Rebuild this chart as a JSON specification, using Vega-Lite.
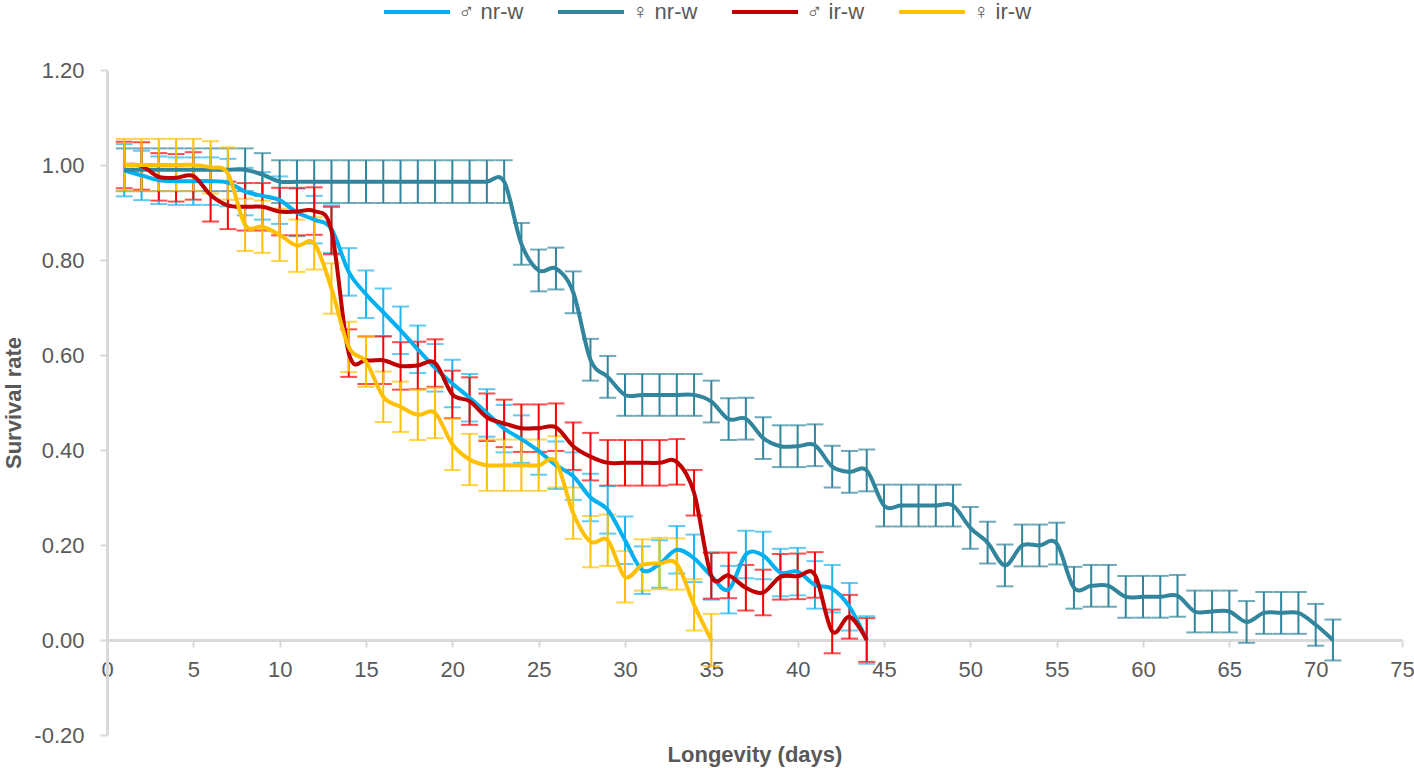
{
  "$schema": "https://vega.github.io/schema/vega-lite/v6.json",
  "width": 1295,
  "height": 665,
  "autosize": {"type": "none"},
  "padding": {"left": 107, "top": 70, "right": 12, "bottom": 33},
  "background": "white",
  "config": {"view": {"stroke": null}, "font": "Liberation Sans"},
  "data": {"values": [
    {"series": "♂ nr-w", "day": 1, "rate": 0.989, "err": 0.055},
    {"series": "♂ nr-w", "day": 2, "rate": 0.978, "err": 0.052},
    {"series": "♂ nr-w", "day": 3, "rate": 0.968, "err": 0.05},
    {"series": "♂ nr-w", "day": 4, "rate": 0.966, "err": 0.05},
    {"series": "♂ nr-w", "day": 5, "rate": 0.966, "err": 0.05},
    {"series": "♂ nr-w", "day": 6, "rate": 0.966, "err": 0.05},
    {"series": "♂ nr-w", "day": 7, "rate": 0.963, "err": 0.05},
    {"series": "♂ nr-w", "day": 8, "rate": 0.944, "err": 0.05},
    {"series": "♂ nr-w", "day": 9, "rate": 0.935, "err": 0.05},
    {"series": "♂ nr-w", "day": 10, "rate": 0.926, "err": 0.05},
    {"series": "♂ nr-w", "day": 11, "rate": 0.9, "err": 0.05},
    {"series": "♂ nr-w", "day": 12, "rate": 0.885, "err": 0.05},
    {"series": "♂ nr-w", "day": 13, "rate": 0.865, "err": 0.05},
    {"series": "♂ nr-w", "day": 14, "rate": 0.775, "err": 0.05},
    {"series": "♂ nr-w", "day": 15, "rate": 0.728, "err": 0.05},
    {"series": "♂ nr-w", "day": 16, "rate": 0.69, "err": 0.05},
    {"series": "♂ nr-w", "day": 17, "rate": 0.652, "err": 0.05},
    {"series": "♂ nr-w", "day": 18, "rate": 0.612, "err": 0.05},
    {"series": "♂ nr-w", "day": 19, "rate": 0.573, "err": 0.05},
    {"series": "♂ nr-w", "day": 20, "rate": 0.54, "err": 0.05},
    {"series": "♂ nr-w", "day": 21, "rate": 0.51, "err": 0.05},
    {"series": "♂ nr-w", "day": 22, "rate": 0.478, "err": 0.05},
    {"series": "♂ nr-w", "day": 23, "rate": 0.445, "err": 0.05},
    {"series": "♂ nr-w", "day": 24, "rate": 0.423, "err": 0.05},
    {"series": "♂ nr-w", "day": 25, "rate": 0.398, "err": 0.05},
    {"series": "♂ nr-w", "day": 26, "rate": 0.368, "err": 0.05},
    {"series": "♂ nr-w", "day": 27, "rate": 0.345, "err": 0.05},
    {"series": "♂ nr-w", "day": 28, "rate": 0.3, "err": 0.05},
    {"series": "♂ nr-w", "day": 29, "rate": 0.274, "err": 0.05},
    {"series": "♂ nr-w", "day": 30, "rate": 0.21, "err": 0.05},
    {"series": "♂ nr-w", "day": 31, "rate": 0.147, "err": 0.05},
    {"series": "♂ nr-w", "day": 32, "rate": 0.16, "err": 0.05},
    {"series": "♂ nr-w", "day": 33, "rate": 0.19, "err": 0.05},
    {"series": "♂ nr-w", "day": 34, "rate": 0.172, "err": 0.05},
    {"series": "♂ nr-w", "day": 35, "rate": 0.135, "err": 0.05},
    {"series": "♂ nr-w", "day": 36, "rate": 0.106, "err": 0.05},
    {"series": "♂ nr-w", "day": 37, "rate": 0.18, "err": 0.05},
    {"series": "♂ nr-w", "day": 38, "rate": 0.178, "err": 0.05},
    {"series": "♂ nr-w", "day": 39, "rate": 0.142, "err": 0.05},
    {"series": "♂ nr-w", "day": 40, "rate": 0.144, "err": 0.05},
    {"series": "♂ nr-w", "day": 41, "rate": 0.116, "err": 0.05},
    {"series": "♂ nr-w", "day": 42, "rate": 0.108, "err": 0.05},
    {"series": "♂ nr-w", "day": 43, "rate": 0.07, "err": 0.05},
    {"series": "♂ nr-w", "day": 44, "rate": 0.0, "err": 0.05},
    {"series": "♀ nr-w", "day": 1, "rate": 0.99, "err": 0.045},
    {"series": "♀ nr-w", "day": 2, "rate": 0.99, "err": 0.045},
    {"series": "♀ nr-w", "day": 3, "rate": 0.99, "err": 0.045},
    {"series": "♀ nr-w", "day": 4, "rate": 0.99, "err": 0.045},
    {"series": "♀ nr-w", "day": 5, "rate": 0.99, "err": 0.045},
    {"series": "♀ nr-w", "day": 6, "rate": 0.99, "err": 0.045},
    {"series": "♀ nr-w", "day": 7, "rate": 0.99, "err": 0.045},
    {"series": "♀ nr-w", "day": 8, "rate": 0.99, "err": 0.045},
    {"series": "♀ nr-w", "day": 9, "rate": 0.98, "err": 0.045},
    {"series": "♀ nr-w", "day": 10, "rate": 0.965, "err": 0.045},
    {"series": "♀ nr-w", "day": 11, "rate": 0.965, "err": 0.045},
    {"series": "♀ nr-w", "day": 12, "rate": 0.965, "err": 0.045},
    {"series": "♀ nr-w", "day": 13, "rate": 0.965, "err": 0.045},
    {"series": "♀ nr-w", "day": 14, "rate": 0.965, "err": 0.045},
    {"series": "♀ nr-w", "day": 15, "rate": 0.965, "err": 0.045},
    {"series": "♀ nr-w", "day": 16, "rate": 0.965, "err": 0.045},
    {"series": "♀ nr-w", "day": 17, "rate": 0.965, "err": 0.045},
    {"series": "♀ nr-w", "day": 18, "rate": 0.965, "err": 0.045},
    {"series": "♀ nr-w", "day": 19, "rate": 0.965, "err": 0.045},
    {"series": "♀ nr-w", "day": 20, "rate": 0.965, "err": 0.045},
    {"series": "♀ nr-w", "day": 21, "rate": 0.965, "err": 0.045},
    {"series": "♀ nr-w", "day": 22, "rate": 0.965, "err": 0.045},
    {"series": "♀ nr-w", "day": 23, "rate": 0.965, "err": 0.045},
    {"series": "♀ nr-w", "day": 24, "rate": 0.834, "err": 0.044},
    {"series": "♀ nr-w", "day": 25, "rate": 0.778, "err": 0.044},
    {"series": "♀ nr-w", "day": 26, "rate": 0.782, "err": 0.044},
    {"series": "♀ nr-w", "day": 27, "rate": 0.732, "err": 0.044},
    {"series": "♀ nr-w", "day": 28, "rate": 0.59, "err": 0.044},
    {"series": "♀ nr-w", "day": 29, "rate": 0.554, "err": 0.044},
    {"series": "♀ nr-w", "day": 30, "rate": 0.516, "err": 0.044},
    {"series": "♀ nr-w", "day": 31, "rate": 0.516, "err": 0.044},
    {"series": "♀ nr-w", "day": 32, "rate": 0.516, "err": 0.044},
    {"series": "♀ nr-w", "day": 33, "rate": 0.516, "err": 0.044},
    {"series": "♀ nr-w", "day": 34, "rate": 0.516, "err": 0.044},
    {"series": "♀ nr-w", "day": 35, "rate": 0.502, "err": 0.044},
    {"series": "♀ nr-w", "day": 36, "rate": 0.465, "err": 0.044},
    {"series": "♀ nr-w", "day": 37, "rate": 0.466, "err": 0.044},
    {"series": "♀ nr-w", "day": 38, "rate": 0.425, "err": 0.044},
    {"series": "♀ nr-w", "day": 39, "rate": 0.408, "err": 0.044},
    {"series": "♀ nr-w", "day": 40, "rate": 0.408, "err": 0.044},
    {"series": "♀ nr-w", "day": 41, "rate": 0.41, "err": 0.044},
    {"series": "♀ nr-w", "day": 42, "rate": 0.365, "err": 0.044},
    {"series": "♀ nr-w", "day": 43, "rate": 0.354, "err": 0.044},
    {"series": "♀ nr-w", "day": 44, "rate": 0.357, "err": 0.044},
    {"series": "♀ nr-w", "day": 45, "rate": 0.283, "err": 0.044},
    {"series": "♀ nr-w", "day": 46, "rate": 0.283, "err": 0.044},
    {"series": "♀ nr-w", "day": 47, "rate": 0.283, "err": 0.044},
    {"series": "♀ nr-w", "day": 48, "rate": 0.283, "err": 0.044},
    {"series": "♀ nr-w", "day": 49, "rate": 0.283, "err": 0.044},
    {"series": "♀ nr-w", "day": 50, "rate": 0.236, "err": 0.044},
    {"series": "♀ nr-w", "day": 51, "rate": 0.205, "err": 0.044},
    {"series": "♀ nr-w", "day": 52, "rate": 0.157, "err": 0.044},
    {"series": "♀ nr-w", "day": 53, "rate": 0.199, "err": 0.044},
    {"series": "♀ nr-w", "day": 54, "rate": 0.199, "err": 0.044},
    {"series": "♀ nr-w", "day": 55, "rate": 0.203, "err": 0.044},
    {"series": "♀ nr-w", "day": 56, "rate": 0.11, "err": 0.044},
    {"series": "♀ nr-w", "day": 57, "rate": 0.114, "err": 0.044},
    {"series": "♀ nr-w", "day": 58, "rate": 0.114, "err": 0.044},
    {"series": "♀ nr-w", "day": 59, "rate": 0.091, "err": 0.044},
    {"series": "♀ nr-w", "day": 60, "rate": 0.091, "err": 0.044},
    {"series": "♀ nr-w", "day": 61, "rate": 0.091, "err": 0.044},
    {"series": "♀ nr-w", "day": 62, "rate": 0.093, "err": 0.044},
    {"series": "♀ nr-w", "day": 63, "rate": 0.06, "err": 0.044},
    {"series": "♀ nr-w", "day": 64, "rate": 0.06, "err": 0.044},
    {"series": "♀ nr-w", "day": 65, "rate": 0.06, "err": 0.044},
    {"series": "♀ nr-w", "day": 66, "rate": 0.038, "err": 0.044},
    {"series": "♀ nr-w", "day": 67, "rate": 0.057, "err": 0.044},
    {"series": "♀ nr-w", "day": 68, "rate": 0.057, "err": 0.044},
    {"series": "♀ nr-w", "day": 69, "rate": 0.057, "err": 0.044},
    {"series": "♀ nr-w", "day": 70, "rate": 0.032, "err": 0.044},
    {"series": "♀ nr-w", "day": 71, "rate": 0.0, "err": 0.043},
    {"series": "♂ ir-w", "day": 1, "rate": 1.0, "err": 0.049},
    {"series": "♂ ir-w", "day": 2, "rate": 0.998, "err": 0.05},
    {"series": "♂ ir-w", "day": 3, "rate": 0.975, "err": 0.05},
    {"series": "♂ ir-w", "day": 4, "rate": 0.973, "err": 0.05},
    {"series": "♂ ir-w", "day": 5, "rate": 0.977, "err": 0.05},
    {"series": "♂ ir-w", "day": 6, "rate": 0.937, "err": 0.056},
    {"series": "♂ ir-w", "day": 7, "rate": 0.915, "err": 0.05},
    {"series": "♂ ir-w", "day": 8, "rate": 0.912, "err": 0.05},
    {"series": "♂ ir-w", "day": 9, "rate": 0.912, "err": 0.05},
    {"series": "♂ ir-w", "day": 10, "rate": 0.902, "err": 0.05},
    {"series": "♂ ir-w", "day": 11, "rate": 0.902, "err": 0.05},
    {"series": "♂ ir-w", "day": 12, "rate": 0.903, "err": 0.05},
    {"series": "♂ ir-w", "day": 13, "rate": 0.862, "err": 0.05},
    {"series": "♂ ir-w", "day": 14, "rate": 0.604, "err": 0.05},
    {"series": "♂ ir-w", "day": 15, "rate": 0.589, "err": 0.05},
    {"series": "♂ ir-w", "day": 16, "rate": 0.589, "err": 0.05},
    {"series": "♂ ir-w", "day": 17, "rate": 0.577, "err": 0.05},
    {"series": "♂ ir-w", "day": 18, "rate": 0.578, "err": 0.05},
    {"series": "♂ ir-w", "day": 19, "rate": 0.583, "err": 0.05},
    {"series": "♂ ir-w", "day": 20, "rate": 0.517, "err": 0.05},
    {"series": "♂ ir-w", "day": 21, "rate": 0.503, "err": 0.05},
    {"series": "♂ ir-w", "day": 22, "rate": 0.469, "err": 0.05},
    {"series": "♂ ir-w", "day": 23, "rate": 0.456, "err": 0.05},
    {"series": "♂ ir-w", "day": 24, "rate": 0.446, "err": 0.05},
    {"series": "♂ ir-w", "day": 25, "rate": 0.446, "err": 0.05},
    {"series": "♂ ir-w", "day": 26, "rate": 0.448, "err": 0.05},
    {"series": "♂ ir-w", "day": 27, "rate": 0.408, "err": 0.05},
    {"series": "♂ ir-w", "day": 28, "rate": 0.386, "err": 0.05},
    {"series": "♂ ir-w", "day": 29, "rate": 0.373, "err": 0.048},
    {"series": "♂ ir-w", "day": 30, "rate": 0.373, "err": 0.048},
    {"series": "♂ ir-w", "day": 31, "rate": 0.373, "err": 0.048},
    {"series": "♂ ir-w", "day": 32, "rate": 0.373, "err": 0.048},
    {"series": "♂ ir-w", "day": 33, "rate": 0.375, "err": 0.048},
    {"series": "♂ ir-w", "day": 34, "rate": 0.31, "err": 0.048},
    {"series": "♂ ir-w", "day": 35, "rate": 0.135, "err": 0.048},
    {"series": "♂ ir-w", "day": 36, "rate": 0.136, "err": 0.048},
    {"series": "♂ ir-w", "day": 37, "rate": 0.11, "err": 0.048},
    {"series": "♂ ir-w", "day": 38, "rate": 0.1, "err": 0.048},
    {"series": "♂ ir-w", "day": 39, "rate": 0.133, "err": 0.048},
    {"series": "♂ ir-w", "day": 40, "rate": 0.134, "err": 0.048},
    {"series": "♂ ir-w", "day": 41, "rate": 0.137, "err": 0.048},
    {"series": "♂ ir-w", "day": 42, "rate": 0.018, "err": 0.046},
    {"series": "♂ ir-w", "day": 43, "rate": 0.049, "err": 0.046},
    {"series": "♂ ir-w", "day": 44, "rate": 0.0, "err": 0.046},
    {"series": "♀ ir-w", "day": 1, "rate": 1.0, "err": 0.055},
    {"series": "♀ ir-w", "day": 2, "rate": 1.0, "err": 0.055},
    {"series": "♀ ir-w", "day": 3, "rate": 1.0, "err": 0.055},
    {"series": "♀ ir-w", "day": 4, "rate": 1.0, "err": 0.055},
    {"series": "♀ ir-w", "day": 5, "rate": 1.0, "err": 0.055},
    {"series": "♀ ir-w", "day": 6, "rate": 0.995, "err": 0.055},
    {"series": "♀ ir-w", "day": 7, "rate": 0.982, "err": 0.055},
    {"series": "♀ ir-w", "day": 8, "rate": 0.874, "err": 0.055},
    {"series": "♀ ir-w", "day": 9, "rate": 0.87, "err": 0.055},
    {"series": "♀ ir-w", "day": 10, "rate": 0.853, "err": 0.055},
    {"series": "♀ ir-w", "day": 11, "rate": 0.83, "err": 0.055},
    {"series": "♀ ir-w", "day": 12, "rate": 0.835, "err": 0.055},
    {"series": "♀ ir-w", "day": 13, "rate": 0.74, "err": 0.053},
    {"series": "♀ ir-w", "day": 14, "rate": 0.617, "err": 0.053},
    {"series": "♀ ir-w", "day": 15, "rate": 0.586, "err": 0.053},
    {"series": "♀ ir-w", "day": 16, "rate": 0.512, "err": 0.053},
    {"series": "♀ ir-w", "day": 17, "rate": 0.491, "err": 0.053},
    {"series": "♀ ir-w", "day": 18, "rate": 0.474, "err": 0.053},
    {"series": "♀ ir-w", "day": 19, "rate": 0.478, "err": 0.053},
    {"series": "♀ ir-w", "day": 20, "rate": 0.412, "err": 0.054},
    {"series": "♀ ir-w", "day": 21, "rate": 0.38, "err": 0.054},
    {"series": "♀ ir-w", "day": 22, "rate": 0.368, "err": 0.054},
    {"series": "♀ ir-w", "day": 23, "rate": 0.368, "err": 0.054},
    {"series": "♀ ir-w", "day": 24, "rate": 0.368, "err": 0.054},
    {"series": "♀ ir-w", "day": 25, "rate": 0.368, "err": 0.054},
    {"series": "♀ ir-w", "day": 26, "rate": 0.375, "err": 0.054},
    {"series": "♀ ir-w", "day": 27, "rate": 0.267, "err": 0.054},
    {"series": "♀ ir-w", "day": 28, "rate": 0.207, "err": 0.054},
    {"series": "♀ ir-w", "day": 29, "rate": 0.21, "err": 0.054},
    {"series": "♀ ir-w", "day": 30, "rate": 0.133, "err": 0.054},
    {"series": "♀ ir-w", "day": 31, "rate": 0.158, "err": 0.054},
    {"series": "♀ ir-w", "day": 32, "rate": 0.161, "err": 0.054},
    {"series": "♀ ir-w", "day": 33, "rate": 0.16, "err": 0.054},
    {"series": "♀ ir-w", "day": 34, "rate": 0.074, "err": 0.054},
    {"series": "♀ ir-w", "day": 35, "rate": 0.0, "err": 0.055}
  ]},
  "encoding": {
    "x": {
      "field": "day", "type": "quantitative",
      "scale": {"domain": [0, 75], "nice": false},
      "axis": {
        "values": [0, 5, 10, 15, 20, 25, 30, 35, 40, 45, 50, 55, 60, 65, 70, 75],
        "title": "Longevity (days)", "offset": -95, "grid": false, "labelFlush": false,
        "domainColor": "#d9d9d9", "domainWidth": 3,
        "tickColor": "#d9d9d9", "tickWidth": 2, "tickSize": 7,
        "labelFont": "Liberation Sans", "labelFontSize": 22, "labelColor": "#595959", "labelPadding": 12,
        "titleFont": "Liberation Sans", "titleFontSize": 22, "titleFontWeight": "bold", "titleColor": "#595959", "titlePadding": 64
      }
    },
    "y": {
      "field": "rate", "type": "quantitative",
      "scale": {"domain": [-0.2, 1.2], "nice": false, "zero": false},
      "axis": {
        "values": [-0.2, 0, 0.2, 0.4, 0.6, 0.8, 1, 1.2],
        "labelExpr": "replace(format(datum.value, '.2f'), '\u2212', '-')",
        "title": "Survival rate", "grid": false, "labelFlush": false,
        "domainColor": "#d9d9d9", "domainWidth": 3,
        "tickColor": "#d9d9d9", "tickWidth": 2, "tickSize": 7,
        "labelFont": "Liberation Sans", "labelFontSize": 22, "labelColor": "#595959", "labelPadding": 16,
        "titleFont": "Liberation Sans", "titleFontSize": 22, "titleFontWeight": "bold", "titleColor": "#595959", "titlePadding": 8
      }
    }
  },
  "layer": [
    {
      "mark": {"type": "errorbar", "thickness": 2, "ticks": {"size": 17, "thickness": 2}},
      "encoding": {
        "yError": {"field": "err"},
        "color": {
          "field": "series", "type": "nominal",
          "scale": {"domain": ["♂ nr-w", "♀ nr-w", "♂ ir-w", "♀ ir-w"], "range": ["#1fb4ee", "#31859c", "#ff0000", "#ffc000"]},
          "legend": null
        }
      }
    },
    {
      "mark": {"type": "line", "interpolate": "cardinal", "strokeWidth": 4},
      "encoding": {
        "color": {
          "field": "series", "type": "nominal",
          "scale": {"domain": ["♂ nr-w", "♀ nr-w", "♂ ir-w", "♀ ir-w"], "range": ["#00b0f0", "#31859c", "#c00000", "#ffc000"]},
          "legend": {
            "orient": "none", "legendX": 275, "legendY": -93, "direction": "horizontal", "columns": 4,
            "title": null, "symbolType": "stroke", "symbolSize": 4356, "symbolStrokeWidth": 4,
            "labelFont": "Liberation Sans, DejaVu Sans", "labelFontSize": 22, "labelColor": "#595959",
            "labelOffset": 6, "columnPadding": 26, "padding": 0
          }
        }
      }
    }
  ],
  "resolve": {"scale": {"color": "independent"}}
}
